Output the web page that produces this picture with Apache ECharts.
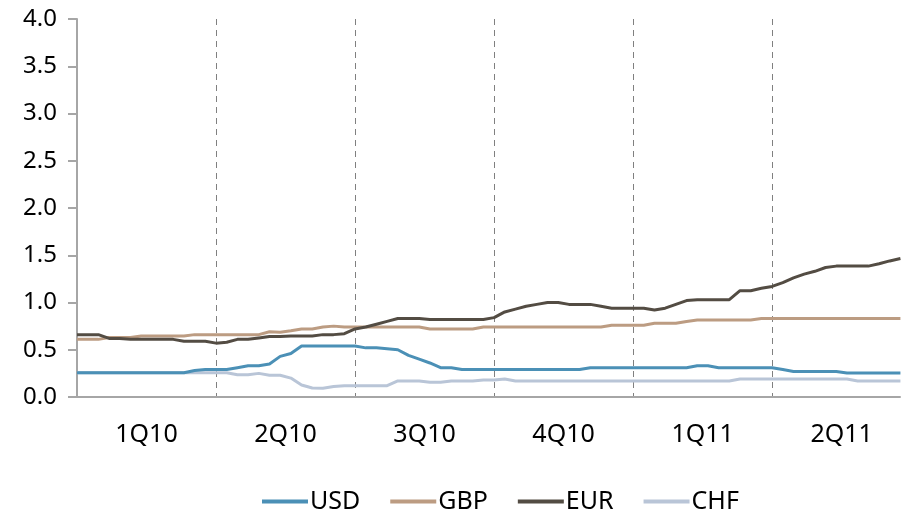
<!DOCTYPE html>
<html>
<head>
<meta charset="utf-8">
<script src="https://cdn.jsdelivr.net/npm/echarts@6/dist/echarts.min.js"></script>
<style>html,body{margin:0;padding:0;background:#fff}#c{width:901px;height:514px}</style>
</head>
<body>
<div id="c"></div>
<script>
// Quarter labels (x axis)
var quarters = ['1Q10', '2Q10', '3Q10', '4Q10', '1Q11', '2Q11'];
var weeksPerQuarter = 13;
var xMaxQuarters = 5.92;
var yTicks = [0, 0.5, 1.0, 1.5, 2.0, 2.5, 3.0, 3.5, 4.0];

// Weekly readings (from 1Q10 start)
var usd = [0.257,0.257,0.257,0.257,0.257,0.257,0.257,0.257,0.257,0.257,0.257,0.28,0.29,
  0.29,0.29,0.31,0.33,0.33,0.35,0.43,0.46,0.54,0.54,0.54,0.54,0.54,
  0.54,0.52,0.52,0.51,0.50,0.44,0.40,0.36,0.31,0.31,0.29,0.29,0.29,
  0.29,0.29,0.29,0.29,0.29,0.29,0.29,0.29,0.29,0.31,0.31,0.31,0.31,
  0.31,0.31,0.31,0.31,0.31,0.31,0.33,0.33,0.31,0.31,0.31,0.31,0.31,
  0.31,0.29,0.27,0.27,0.27,0.27,0.27,0.255,0.255,0.255,0.255,0.255,0.255];
var gbp = [0.61,0.61,0.61,0.63,0.63,0.63,0.645,0.645,0.645,0.645,0.645,0.66,0.66,
  0.66,0.66,0.66,0.66,0.66,0.69,0.685,0.70,0.72,0.72,0.74,0.75,0.74,
  0.74,0.74,0.74,0.74,0.74,0.74,0.74,0.72,0.72,0.72,0.72,0.72,0.74,
  0.74,0.74,0.74,0.74,0.74,0.74,0.74,0.74,0.74,0.74,0.74,0.76,0.76,
  0.76,0.76,0.78,0.78,0.78,0.80,0.815,0.815,0.815,0.815,0.815,0.815,0.83,
  0.83,0.83,0.83,0.83,0.83,0.83,0.83,0.83,0.83,0.83,0.83,0.83,0.83];
var eur = [0.66,0.66,0.66,0.62,0.62,0.61,0.61,0.61,0.61,0.61,0.59,0.59,0.59,
  0.57,0.58,0.61,0.61,0.625,0.64,0.64,0.645,0.645,0.645,0.66,0.66,0.67,
  0.72,0.74,0.77,0.80,0.83,0.83,0.83,0.82,0.82,0.82,0.82,0.82,0.82,
  0.84,0.90,0.93,0.96,0.98,1.0,1.0,0.98,0.98,0.98,0.96,0.94,0.94,
  0.94,0.94,0.92,0.94,0.98,1.02,1.03,1.03,1.03,1.03,1.125,1.125,1.15,
  1.17,1.21,1.26,1.30,1.33,1.37,1.385,1.385,1.385,1.385,1.41,1.44,1.465];
var chf = [0.257,0.257,0.257,0.257,0.257,0.257,0.257,0.257,0.257,0.257,0.257,0.257,0.257,
  0.257,0.257,0.236,0.236,0.25,0.23,0.23,0.20,0.127,0.095,0.092,0.11,0.12,
  0.12,0.12,0.12,0.12,0.17,0.17,0.17,0.155,0.155,0.17,0.17,0.17,0.18,
  0.18,0.19,0.17,0.17,0.17,0.17,0.17,0.17,0.17,0.17,0.17,0.17,0.17,
  0.17,0.17,0.17,0.17,0.17,0.17,0.17,0.17,0.17,0.17,0.19,0.19,0.19,
  0.19,0.19,0.19,0.19,0.19,0.19,0.19,0.19,0.17,0.17,0.17,0.17,0.17];

function toPairs(arr) {
  return arr.map(function (v, i) { return [i / weeksPerQuarter, v]; });
}

var FONT = '"Noto Sans", "Open Sans", sans-serif';
var chart = echarts.init(document.getElementById('c'), null, {renderer: 'canvas'});
var mk = function (name, data, color) {
  return {
    name: name, type: 'line', data: toPairs(data), xAxisIndex: 0,
    showSymbol: false, symbol: 'none', animation: false,
    lineStyle: {color: color, width: 3}, itemStyle: {color: color}
  };
};
chart.setOption({
  animation: false,
  grid: {left: 77, right: 1, top: 19, bottom: 117, containLabel: false},
  legend: {
    top: 484, left: 257,
    icon: 'rect', itemWidth: 46, itemHeight: 4, itemGap: 30,
    textStyle: {fontFamily: FONT, fontSize: 25, color: '#000', padding: [0, 0, 0, -3]},
    data: ['USD', 'GBP', 'EUR', 'CHF']
  },
  xAxis: [{
    type: 'value', min: 0, max: xMaxQuarters, interval: 1,
    axisLine: {show: true, lineStyle: {color: '#a6a6a6', width: 2}},
    axisTick: {show: false},
    axisLabel: {show: false},
    splitLine: {show: true, showMinLine: false, showMaxLine: false,
      lineStyle: {color: '#808080', width: 1, type: [6, 5]}}
  }, {
    type: 'value', min: 0, max: xMaxQuarters, interval: 0.5, position: 'bottom',
    axisLine: {show: false}, axisTick: {show: false}, splitLine: {show: false},
    axisLabel: {
      show: true, margin: 25, fontFamily: FONT, fontSize: 25, color: '#000',
      showMinLabel: false, showMaxLabel: false,
      formatter: function (v) {
        var k = v - 0.5;
        if (Math.abs(k - Math.round(k)) > 1e-6) return '';
        var i = Math.round(k);
        return quarters[i] || '';
      }
    }
  }],
  yAxis: {
    type: 'value', min: yTicks[0], max: yTicks[yTicks.length - 1], interval: yTicks[1] - yTicks[0],
    axisLine: {show: true, lineStyle: {color: '#a6a6a6', width: 2}},
    axisTick: {show: true, length: 9, lineStyle: {color: '#a6a6a6', width: 2}},
    splitLine: {show: false},
    axisLabel: {margin: 20, fontFamily: FONT, fontSize: 24, color: '#000',
      formatter: function (v) { return v.toFixed(1); }}
  },
  series: [
    mk('CHF', chf, '#b9c5d7'),
    mk('GBP', gbp, '#bc9c82'),
    mk('USD', usd, '#4b90b6'),
    mk('EUR', eur, '#534c43')
  ]
});
</script>
</body>
</html>
